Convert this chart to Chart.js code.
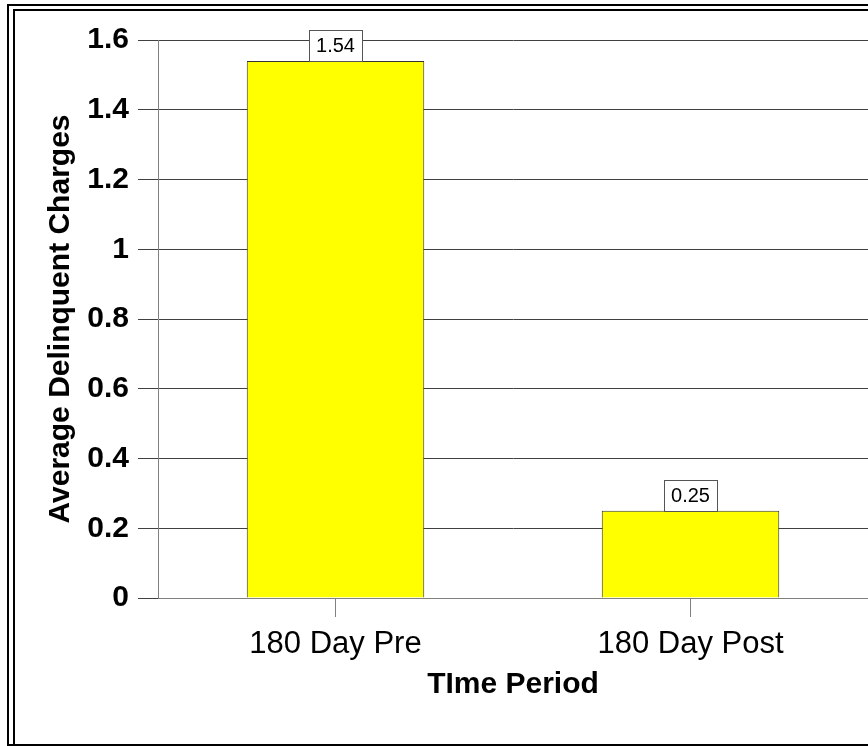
<!DOCTYPE html>
<html>
<head>
<meta charset="utf-8">
<script src="https://cdn.jsdelivr.net/npm/chart.js@4.4.0/dist/chart.umd.min.js"></script>
<style>
  html, body { margin: 0; padding: 0; background: #fff; }
  #wrap { position: relative; width: 868px; height: 746px; overflow: hidden; }
  #wrap canvas { position: absolute; left: 0; top: 0; }
  .frame { position: absolute; border: 2px solid #000; pointer-events: none; }
</style>
</head>
<body>
<div id="wrap">
  <canvas id="chart"></canvas>
  <div class="frame" style="left:7px; top:4px; width:900px; height:738px;"></div>
  <div class="frame" style="left:13px; top:9px; width:900px; height:733px; border-bottom:none;"></div>
</div>
<script>
// data
const categories = ["180 Day Pre", "180 Day Post"];
const avgCharges = [1.54, 0.25];
const valueLabels = ["1.54", "0.25"];
const yTicks = [0, 0.2, 0.4, 0.6, 0.8, 1, 1.2, 1.4, 1.6];

const font = "'Liberation Sans', Arial, sans-serif";

// white boxed value above each bar
const boxLabels = {
  id: "boxLabels",
  afterDatasetsDraw(chart) {
    const ctx = chart.ctx;
    const meta = chart.getDatasetMeta(0);
    ctx.save();
    ctx.font = "20px " + font;
    ctx.textAlign = "center";
    ctx.textBaseline = "middle";
    meta.data.forEach((bar, i) => {
      const text = valueLabels[i];
      const w = Math.round(ctx.measureText(text).width) + 14;
      const h = 31;
      const x = Math.round(bar.x - w / 2) + 0.5;
      const y = Math.round(bar.y - h) + 0.5;
      ctx.fillStyle = "#fff";
      ctx.fillRect(x, y, w, h);
      ctx.strokeStyle = "#555";
      ctx.lineWidth = 1;
      ctx.strokeRect(x, y, w, h);
      ctx.fillStyle = "#000";
      ctx.fillText(text, bar.x, bar.y - h / 2 + 1);
    });
    ctx.restore();
  },
};

new Chart(document.getElementById("chart"), {
  type: "bar",
  data: {
    labels: categories,
    datasets: [
      {
        data: avgCharges,
        backgroundColor: "#ffff00",
        borderColor: "#333",
        borderWidth: 1,
        barPercentage: 0.5,
        categoryPercentage: 1,
      },
    ],
  },
  options: {
    responsive: true,
    maintainAspectRatio: false,
    animation: false,
    devicePixelRatio: 1,
    layout: { padding: { top: 40, left: 0, right: 0, bottom: 0 } },
    plugins: {
      legend: { display: false },
      tooltip: { enabled: false },
    },
    scales: {
      x: {
        afterFit: (scale) => {
          scale.height = 148;
        },
        grid: {
          offset: false,
          drawOnChartArea: false,
          drawTicks: true,
          tickLength: 19,
          color: "#808080",
        },
        border: { color: "#808080" },
        ticks: {
          padding: 9,
          color: "#000",
          font: { family: font, size: 31 },
        },
        title: {
          display: true,
          text: "TIme Period",
          color: "#000",
          font: { family: font, size: 30, weight: "bold" },
          padding: { top: 0, bottom: 43 },
        },
      },
      y: {
        min: 0,
        max: 1.6,
        afterFit: (scale) => {
          scale.width = 158;
        },
        afterBuildTicks: (scale) => {
          scale.ticks = yTicks.map((v) => ({ value: v }));
        },
        grid: {
          color: "#404040",
          tickLength: 20,
        },
        border: { color: "#808080" },
        ticks: {
          padding: 9,
          color: "#000",
          font: { family: font, size: 30, weight: "bold" },
          callback: (v) => String(Math.round(v * 10) / 10),
        },
        title: {
          display: true,
          text: "Average Delinquent Charges",
          color: "#000",
          font: { family: font, size: 30, weight: "bold" },
          padding: { top: 43, bottom: 0 },
        },
      },
    },
  },
  plugins: [boxLabels],
});
</script>
</body>
</html>
